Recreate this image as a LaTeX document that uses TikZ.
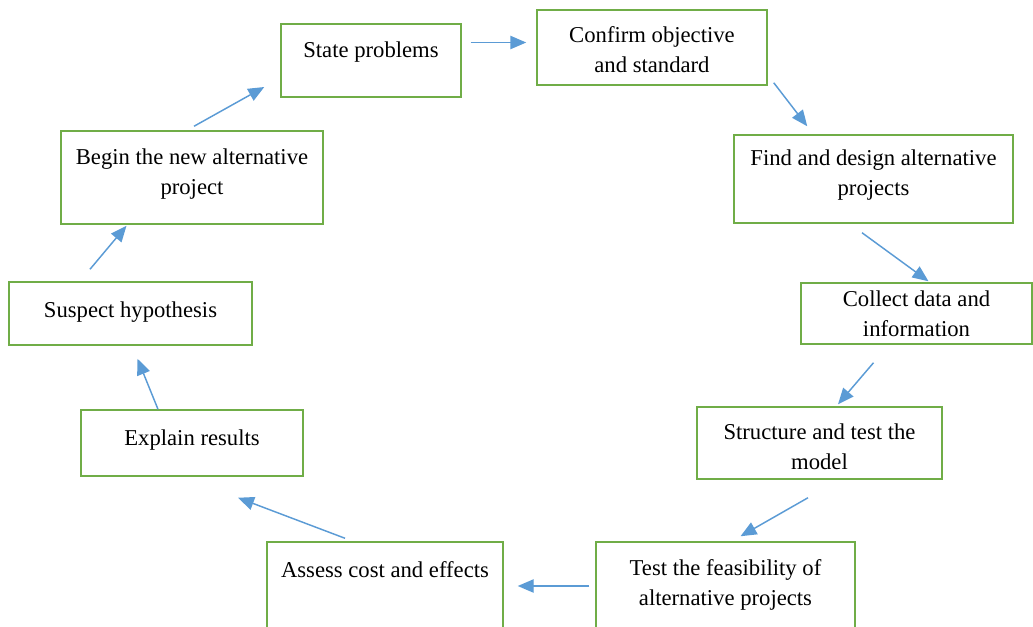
\documentclass[tikz,border=0pt]{standalone}
\usepackage{fontspec}
\setmainfont{Liberation Serif}
\usepackage{xcolor}
\usetikzlibrary{arrows.meta, positioning}

\definecolor{stepgreen}{RGB}{112,173,71}
\definecolor{flowblue}{RGB}{91,155,213}

\begin{document}
\begin{tikzpicture}[x=0.75pt, y=-0.75pt,
            box/.style={draw=stepgreen, line width=1.1pt, rectangle, inner sep=0pt},
            dims/.style 2 args={minimum width=#1*0.75pt, minimum height=#2*0.75pt},
            txt/.style={anchor=north, inner sep=0pt, align=center, font=\fontsize{17}{22.5}\selectfont, yshift=-#1},
            txt/.default=13.5pt,
            arrow/.style={-{Triangle[length=12pt, width=10pt]}, draw=flowblue, line width=1.1pt}]

            \useasboundingbox (0,0) rectangle (1033,626);

            \node[box, dims={180}{73}, label={[txt]north:State problems}] (state) at (371,60.5) {};
            \node[box, dims={230}{75}, label={[txt=12.5pt]north:Confirm objective\\and standard}] (confirm) at (652,47.5) {};
            \node[box, dims={279}{88}, label={[txt=11.5pt]north:Find and design alternative\\projects}] (find) at (873.5,179) {};
            \node[box, dims={231}{61}, label={[txt=6.5pt]north:Collect data and\\information}] (collect) at (916.5,313.5) {};
            \node[box, dims={245}{72}, label={[txt=13pt]north:Structure and test the\\model}] (structure) at (819.5,443) {};
            \node[box, dims={259}{100}, label={[txt]north:Test the feasibility of\\alternative projects}] (feasible) at (725.5,592) {};
            \node[box, dims={236}{100}, label={[txt=15pt]north:Assess cost and effects}] (assess) at (385,592) {};
            \node[box, dims={222}{66}, label={[txt=15pt]north:Explain results}] (explain) at (192,443) {};
            \node[box, dims={243}{63}, label={[txt=15pt]north:Suspect hypothesis}] (suspect) at (130.5,313.5) {};
            \node[box, dims={262}{93}, label={[txt]north:Begin the new alternative\\project}] (begin) at (192,177.5) {};

            \draw[arrow] ([shift={(9,-18)}]state.east) -- ([shift={(-10,-5)}]confirm.west);
            \draw[arrow] ([shift={(6,-3)}]confirm.south east) -- ([shift={(74,-8)}]find.north west);
            \draw[arrow] ([shift={(-11.5,9)}]find.south) -- ([shift={(12,-1)}]collect.north);
            \draw[arrow] ([shift={(-43,18)}]collect.south) -- ([shift={(18.5,-2)}]structure.north);
            \draw[arrow] ([shift={(-11.5,18)}]structure.south) -- ([shift={(15,-5)}]feasible.north);
            \draw[arrow] ([shift={(-6,-6)}]feasible.west) -- ([shift={(14,-6)}]assess.east);
            \draw[arrow] ([shift={(-40,-3)}]assess.north) -- ([shift={(46,21)}]explain.south);
            \draw[arrow] ([shift={(-34,0)}]explain.north) -- ([shift={(7,13)}]suspect.south);
            \draw[arrow] ([shift={(-40.5,-12)}]suspect.north) -- ([shift={(-65.5,1)}]begin.south);
            \draw[arrow] ([shift={(2,-4)}]begin.north) -- ([shift={(-16,26.5)}]state.west);
        \end{tikzpicture}
\end{document}
